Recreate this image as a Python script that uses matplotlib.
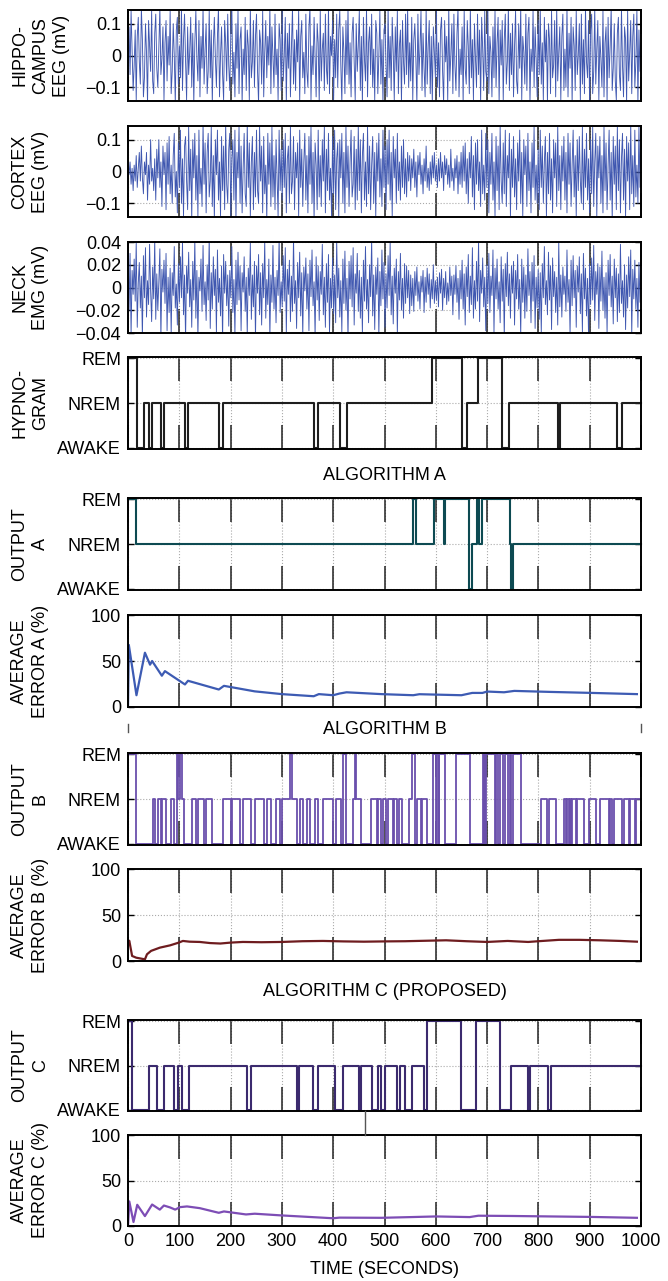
import matplotlib
matplotlib.use("Agg")
import matplotlib.pyplot as plt
import numpy as np
from matplotlib.lines import Line2D

plt.rcParams['font.family'] = ['Liberation Sans', 'DejaVu Sans']

# ---------------- data ----------------
hippo_eeg = [  # units of 0.01 mV
    4,9,-6,14,2,-11,-3,8,-14,6,12,-2,-9,15,5,-13,-7,10,1,-15,11,3,-5,14,-8,
    -12,7,13,-4,-10,2,15,-6,-1,9,-14,4,11,-8,6,-3,14,-12,-5,10,0,-15,8,12,-9,
    3,-7,15,-11,5,13,-2,-14,9,-6,1,12,-10,7,-15,4,14,-1,-8,11,-13,6,-4,15,-9,
    2,10,-12,-5,14,-7,8,-15,3,12,-1,-10,6,15,-13,0,9,-6,-14,11,4,-8,13,-3,-11,
    7,15,-9,1,-13,10,-4,14,-12,5,9,-15,2,-6,12,-11,8,3,-14,15,-7,-2,11,-10,6,
    13,-5,-15,8,4,-9,14,-13,1,11,-7,6,-3,15,-12,9,-1,-10,13,-6,2,-14,10,5,-11,
    14,-8,0,12,-15,7,-4,10,-13,3,15,-9,5,-11,8,-2,14,-15,6,11,-7,1,-12,13,-5,
    -10,9,15,-14,3,-6,12,-1,-13,10,4,-15,14,-8,2,7,-11,13,-4,-9,15,-12,6,0,11,
    -14,5,-7,13,-10,8,14,-3,-15,9,1,-12,11,-6,15,-9,4,-13,7,12,-2,-14,10,-5,3,
    14,-11,6,-15,12,-1,-8,15,-13,4,9,-6,13,-10,2,-14,11,7,-12,0,14,-9,5,-15,8,
    10,-3,-13,15,-7,6,-11,12,1,-14,9,-5,14,-12,3,8,-15,11,-2,-9,13,-6,15,-10,4,
    -8,12,-14,5,10,-1,-15,13,-6,2,14,-11,7,-4,-13,15,-9,3,11,-12,6,-15,9,1,-7,
    14,-10,4,-13,8,12,-5,-15,11,-2,6,-14,15,-8,0,10,-12,13,-3,-11,7,15,-13,2,-6,
    9,-15,14,-4,-9,11,3,-12,15,-7,5,-14,10,-1,-10,13,-6,8,-15,12,2,-11,14,-5,-8,
    15,-12,6,1,-13,9,-7,14,-10,4,12,-15,8,-3,11,-14,5,13,-9,-2,15,-11,7,-6,10,
    -13,3,14,-8,-12,10,-4,15,-14,6,1,-9,13,-11,7,12,-15,2,-5,14,-10,9,-1,-13,11,
    -6,15,-9,4,-14,12,-2,8,-15,10,5,-12,14,-7,-3,11,-13,15,-8,1,9,-14,6,13,-11,
    2,-10,15,-13,7,-4,12,-15,9,3,-11,14,-6,0,10,-14,13,-9,5,-12,15,-2,-7,11,-15,
    8,13,-12,-5,15,-9,2,11,-14,6,-1,-10,14,-13,4,9,-15,12,-7,3,15,-11,-4,10,-8,
    -14,7,12,-6,-11,15,-3,-13,9,5,-15,14,-8,1,11,-12,6,13,-10,-2,14,-15,8,-5,4,
]
cortex_eeg = [  # units of 0.01 mV
    2,-1,3,-4,1,-6,2,-3,5,-5,1,6,-3,8,-2,-7,3,-1,6,-9,2,-4,10,-3,1,
    -6,4,-9,7,-2,10,-5,3,-11,8,-1,6,-12,9,-4,11,-7,2,-10,5,12,-8,0,-13,9,
    -5,13,-10,4,-14,8,11,-3,-12,14,-6,7,-15,10,-2,12,-9,5,-14,13,-7,1,-11,15,-4,
    9,-13,6,12,-8,-3,14,-11,5,-15,10,-1,13,-9,3,-14,11,-6,8,-12,15,-4,-10,7,12,
    -14,4,10,-9,13,-15,6,-2,14,-10,8,-13,1,12,-7,-11,15,-5,9,-14,3,11,-12,6,-8,
    13,-6,-10,14,-3,8,-13,11,-7,2,-15,12,-4,9,-11,14,-8,5,-12,10,-2,-14,13,-6,7,
    -9,10,-5,12,-13,4,8,-10,14,-7,-3,11,-12,6,-2,9,-14,13,-5,7,-11,3,12,-9,5,
    -13,11,-4,14,-10,6,-15,9,2,-12,13,-8,5,-11,10,-3,14,-13,7,-6,12,-9,1,-14,11,
    -7,13,-12,4,9,-14,10,-2,12,-10,6,-13,14,-5,8,-11,3,13,-8,-4,11,-12,7,-9,14,
    -6,10,-13,5,12,-9,3,-11,14,-7,8,-12,2,11,-10,6,-14,9,-3,12,-8,4,-11,13,-5,
    8,-12,10,-4,13,-9,6,-14,11,-2,7,-10,12,-6,3,-9,8,-5,10,-7,4,-8,6,-3,5,
    -6,4,-2,7,-5,3,-8,5,-1,6,-4,2,-7,4,-3,8,-5,1,-6,3,-4,5,-2,6,-3,
    2,-5,4,-3,6,-2,3,-6,5,-1,4,-4,2,-5,7,-3,1,-6,4,-2,5,-7,3,-4,6,
    -5,8,-3,9,-7,4,-10,6,-2,11,-8,5,-12,9,-4,10,-6,3,-11,13,-7,2,-9,12,-5,
    10,-13,6,-4,12,-9,3,-14,11,-6,8,-12,14,-3,-10,9,-7,13,-11,5,-2,12,-14,7,-5,
    11,-8,4,-12,9,-3,13,-10,6,-14,10,-1,8,-11,12,-6,3,-13,9,-5,14,-9,2,-10,7,
    -12,13,-5,8,-10,3,11,-14,6,-7,12,-9,4,-13,10,-2,9,-11,14,-6,5,-12,8,-3,11,
    -9,6,-13,12,-4,9,-11,2,13,-8,5,-14,10,-6,11,-3,-10,14,-12,7,-5,12,-9,4,-13,
    10,-7,14,-11,3,12,-14,8,-2,11,-10,5,-13,14,-6,9,-12,2,13,-9,6,-15,11,-4,8,
    -12,14,-6,10,-13,4,12,-9,7,-14,11,-3,9,-12,15,-7,5,-11,13,-8,2,-10,14,-5,9,
]
neck_emg = [  # units of 0.001 mV
    8,-20,30,-42,15,-6,25,-12,40,-35,4,22,-18,10,-44,28,-9,35,-26,6,-15,38,-3,-30,18,
    -10,42,-28,12,-20,5,34,-45,16,-4,24,-14,30,-38,9,-22,17,-41,13,-7,36,-18,3,-33,21,
    -13,27,-9,40,-24,11,-46,19,-5,31,-17,7,-35,23,-11,42,-27,15,-43,9,-3,25,-21,37,-15,
    5,-29,20,-11,44,-36,13,-19,27,-7,16,-40,33,-13,8,-25,19,-47,29,-5,23,-16,11,-34,15,
    -9,36,-22,7,-42,24,-15,31,-11,19,-38,13,-4,27,-21,9,-41,17,-7,39,-28,11,-17,23,-45,
    19,-5,29,-24,13,-33,21,-9,41,-27,7,-15,25,-44,11,-13,37,-19,9,-31,15,-7,43,-22,5,
    -17,28,-12,35,-40,16,-6,24,-30,10,-21,44,-14,6,-36,22,-9,31,-25,13,-42,18,-3,26,-19,
    12,-38,24,-8,33,-16,5,-43,27,-11,19,-29,14,-6,38,-24,9,-35,21,-13,29,-40,8,-18,26,
    -23,11,-31,41,-9,17,-26,6,-39,25,-14,32,-20,8,-45,23,-10,28,-17,35,-33,12,-5,30,-21,
    15,-27,9,-40,24,-12,36,-19,7,-31,20,-8,43,-25,11,-37,18,-6,26,-42,14,-16,33,-10,22,
    -35,12,-18,28,-7,40,-24,10,-32,17,-5,25,-41,14,-11,30,-20,8,-27,21,-14,19,-9,15,-23,
    11,-16,8,-21,14,-7,18,-12,5,-19,10,-4,15,-22,9,-13,17,-6,12,-18,7,-10,20,-14,6,
    -11,9,-17,13,-5,16,-20,8,-9,14,-15,4,-12,18,-7,10,-24,11,-6,19,-13,8,-28,15,-10,
    24,-19,12,-33,18,-8,29,-22,10,-15,35,-27,6,-19,23,-12,41,-30,15,-5,26,-17,9,-38,20,
    -14,30,-22,10,-7,33,-40,17,-10,25,-19,5,-31,27,-12,16,-44,21,-8,31,-16,12,-27,19,-5,
    23,-33,15,-10,29,-19,7,-42,25,-13,18,-27,11,-21,34,-7,14,-31,22,-12,28,-36,9,-18,16,
    -28,13,-40,21,-9,36,-15,6,-24,31,-11,19,-37,26,-8,14,-22,9,-33,40,-17,11,-26,18,-6,
    10,-21,33,-13,7,-41,24,-16,28,-9,15,-35,19,-4,27,-23,12,-39,30,-10,17,-25,8,-44,21,
    -15,26,-11,37,-29,14,-6,21,-36,18,-12,32,-20,9,-27,13,-40,24,-7,29,-17,10,-32,25,-9,
    17,-30,12,-22,38,-14,6,-26,20,-37,11,-18,27,-8,33,-41,16,-10,24,-19,8,-35,22,-13,19,
]

# sleep states: 0 = AWAKE, 1 = NREM, 2 = REM ; change times in seconds
hypno_t = [0, 17, 31.7, 40.8, 47, 65, 70, 111, 117, 177, 186, 362, 371, 413, 427,
           592, 651, 660, 682, 730, 742, 838, 843, 954, 962]
hypno_s = [2, 0, 1, 0, 1, 0, 1, 0, 1, 0, 1, 0, 1, 0, 1,
           2, 0, 1, 2, 0, 1, 0, 1, 0, 1]

outA_t = [0, 15.6, 555, 562, 596, 616, 618, 664, 671, 680, 684, 690, 744, 747, 751]
outA_s = [2, 1, 2, 1, 2, 1, 2, 0, 1, 2, 1, 2, 1, 0, 1]

outB_t = [0, 15.6, 49, 52, 59, 64, 67, 74, 83, 90, 95.5, 97.4, 100.6, 105, 110, 125, 133, 136,
          149, 153, 163, 185.5, 200, 203.5, 218, 224, 239, 247, 265, 271, 278, 289, 297, 300,
          316, 320, 329, 335, 342, 348, 355, 364, 371, 380, 400, 406, 416, 420, 424, 438, 442,
          444, 454.5, 474, 486, 488, 494, 497, 502.8, 506, 515.7, 519, 525.3, 528, 535, 547.8,
          554.3, 558.8, 564, 570.4, 573.6, 582, 594.8, 601.2, 603, 605.7, 607, 618.6, 639.8,
          666.9, 691.3, 693, 694, 696, 697, 715, 718, 722, 725, 731, 735, 741, 744, 747, 750,
          766, 805.2, 816.2, 821.3, 834.2, 850.3, 853, 856, 859, 861, 864, 866, 872.8, 876,
          888.9, 898.5, 911.4, 921, 937.2, 940.4, 944, 947, 962.9, 966.1, 975.8, 979, 988.6, 991]
outB_s = [2, 0, 1, 0, 1, 0, 1, 0, 1, 0, 2, 1, 2, 1, 0, 1, 0, 1,
          0, 1, 0, 1, 0, 1, 0, 1, 0, 1, 0, 1, 0, 1, 0, 1,
          2, 1, 0, 1, 0, 1, 0, 1, 0, 1, 0, 1, 0, 2, 0, 1, 2,
          1, 0, 1, 0, 1, 0, 1, 0, 1, 0, 1, 0, 1, 0, 1,
          2, 0, 1, 0, 1, 0, 2, 0, 2, 0, 2, 0, 2,
          0, 2, 0, 2, 0, 2, 0, 2, 0, 2, 0, 2, 0, 2, 0, 2,
          0, 1, 0, 1, 0, 1, 0, 1, 0, 1, 0, 1, 0, 1,
          0, 1, 0, 1, 0, 1, 0, 1, 0, 1, 0, 1, 0, 1]

outC_t = [0, 8, 41.4, 57.5, 69.7, 89, 97.4, 105, 118, 232.5, 240, 329, 333, 360, 371, 403,
          419, 450, 455, 476, 487, 494, 501, 525, 530, 539, 553, 577, 582, 649, 678, 726,
          746, 779.6, 784, 818, 825]
outC_s = [2, 0, 1, 0, 1, 0, 1, 0, 1, 0, 1, 0, 1, 0, 1, 0,
          1, 0, 1, 0, 1, 0, 1, 0, 1, 0, 1, 0, 2, 0, 2, 0,
          1, 0, 1, 0, 1]

errA_t = [0, 1.6, 16.5, 33, 43, 47, 66, 72, 111, 117, 177, 187, 247, 300, 362, 372, 400, 412,
          426, 494, 556, 568, 650, 671, 691, 700, 733, 753, 823, 905, 992]
errA_v = [0, 67.5, 12.8, 59, 46, 50, 34, 39, 24.5, 28.5, 19, 23, 17, 14, 11.7, 14, 12.8, 14.6,
          16, 14, 12.8, 13.9, 12.8, 15.3, 15.3, 16.8, 16, 17.5, 16.4, 15.3, 14]

errB_t = [0, 2.5, 8, 16, 33, 37, 45, 62, 82, 99, 107, 120, 140, 160, 180, 200, 224, 260, 300,
          340, 380, 420, 460, 500, 540, 580, 620, 660, 700, 740, 780, 800, 840, 880, 920, 960, 992]
errB_v = [20, 22, 5.5, 3.6, 1.8, 7.3, 11, 14.5, 17, 20, 21.8, 21, 20.7, 19.5, 19, 20, 20.7, 20.4,
          20.7, 21.5, 21.8, 21.3, 21, 21.3, 21.5, 22, 22.5, 21.5, 20.7, 21.8, 20.7, 21.5, 23,
          23, 22.5, 21.8, 21]

errC_t = [0, 2.5, 10.7, 18, 33, 47, 62, 70, 82, 92, 101, 115, 140, 177, 187, 230, 247, 300,
          400, 412, 494, 552, 600, 666, 683, 750, 823, 900, 992]
errC_v = [0, 27, 4.4, 23.3, 10.9, 23.6, 18, 22.5, 20.4, 18, 20.7, 21.5, 19.6, 14.5, 16, 12.7,
          13.5, 11.6, 8.5, 9.2, 9, 9.8, 10.5, 9.8, 11.3, 11, 10.5, 10, 9]

xticks = [0, 100, 200, 300, 400, 500, 600, 700, 800, 900, 1000]
state_labels = ['AWAKE', 'NREM', 'REM']

# ---------------- figure ----------------
W, H = 668, 1281
fig = plt.figure(figsize=(W / 100, H / 100), dpi=100)
FS = 13
LEFT, RIGHT = 128, 641


def make_axes(top, bottom):
    ax = fig.add_axes([LEFT / W, 1 - bottom / H, (RIGHT - LEFT) / W, (bottom - top) / H])
    ax.set_xlim(0, 1000)
    ax.set_xticks(xticks)
    ax.tick_params(axis='x', direction='in', length=17, width=1.1, color='#222222',
                   top=True, bottom=True, labelbottom=False, labelsize=FS)
    ax.tick_params(axis='y', direction='in', length=4, width=1.0, left=True, right=True,
                   labelsize=FS, pad=5)
    ax.grid(True, linestyle=':', color='#aaaaaa', linewidth=0.8)
    for s in ax.spines.values():
        s.set_linewidth(1.4)
        s.set_color('black')
    return ax


def ylab(top, bottom, text):
    fig.text(11 / W, 1 - (top + bottom) / 2 / H, text, rotation=90, ha='left', va='center',
             multialignment='center', fontsize=FS, linespacing=1.3)


def step_panel(top, bottom, t, s, color, label, lw=1.5):
    ax = make_axes(top, bottom)
    ax.step(list(t) + [1000], list(s) + [s[-1]], where='post', color=color, lw=lw,
            clip_on=False)
    ax.set_ylim(-0.03, 2.03)
    ax.set_yticks([0, 1, 2])
    ax.set_yticklabels(state_labels)
    ylab(top, bottom, label)
    return ax


def eeg_panel(top, bottom, vals, scale, lim, ticks, ticklabels, label):
    ax = make_axes(top, bottom)
    v = np.array(vals) * scale
    tt = np.linspace(0, 1000, len(v))
    ax.plot(tt, v, color='#3f57b0', lw=0.65)
    ax.set_ylim(-lim, lim)
    ax.set_yticks(ticks)
    ax.set_yticklabels(ticklabels)
    ylab(top, bottom, label)
    return ax


def err_panel(top, bottom, t, v, color, label):
    ax = make_axes(top, bottom)
    ax.plot(t, v, color=color, lw=1.6)
    ax.set_ylim(0, 100)
    ax.set_yticks([0, 50, 100])
    ylab(top, bottom, label)
    return ax


eeg_panel(10, 101, hippo_eeg, 0.01, 0.143, [-0.1, 0, 0.1], ['\u22120.1', '0', '0.1'],
          'HIPPO-\nCAMPUS\nEEG (mV)')
eeg_panel(126, 217, cortex_eeg, 0.01, 0.143, [-0.1, 0, 0.1], ['\u22120.1', '0', '0.1'],
          'CORTEX\nEEG (mV)')
eeg_panel(242, 333, neck_emg, 0.001, 0.04, [-0.04, -0.02, 0, 0.02, 0.04],
          ['\u22120.04', '\u22120.02', '0', '0.02', '0.04'], 'NECK\nEMG (mV)')

step_panel(357, 449, hypno_t, hypno_s, '#1e1e1e', 'HYPNO-\nGRAM')
fig.text((LEFT + RIGHT) / 2 / W, 1 - 476 / H, 'ALGORITHM A', ha='center', va='center', fontsize=FS)
step_panel(498, 590, outA_t, outA_s, '#0d4a52', 'OUTPUT\nA')
err_panel(615, 707, errA_t, errA_v, '#3d5bb3', 'AVERAGE\nERROR A (%)')

fig.text((LEFT + RIGHT) / 2 / W, 1 - 730 / H, 'ALGORITHM B', ha='center', va='center', fontsize=FS)
step_panel(753, 845, outB_t, outB_s, '#6a4fac', 'OUTPUT\nB', lw=1.3)
err_panel(869, 961, errB_t, errB_v, '#6e1c1f', 'AVERAGE\nERROR B (%)')

fig.text((LEFT + RIGHT) / 2 / W, 1 - 992 / H, 'ALGORITHM C (PROPOSED)', ha='center', va='center',
         fontsize=FS)
step_panel(1020, 1111, outC_t, outC_s, '#3b2a6e', 'OUTPUT\nC')
axC = err_panel(1135, 1226, errC_t, errC_v, '#7d4db5', 'AVERAGE\nERROR C (%)')
axC.tick_params(axis='x', labelbottom=True, pad=5)
axC.set_xticklabels([str(x) for x in xticks])
fig.text((LEFT + RIGHT) / 2 / W, 1 - 1270 / H, 'TIME (SECONDS)', ha='center', va='center',
         fontsize=FS)

# small stray marks present in the original figure
for (x0, y0, x1, y1) in [(365, 1111, 365, 1135), (128, 724, 128, 732), (641, 724, 641, 732)]:
    fig.add_artist(Line2D([x0 / W, x1 / W], [1 - y0 / H, 1 - y1 / H], color='#555555', lw=1.0))

fig.savefig('out.png', dpi=100)
